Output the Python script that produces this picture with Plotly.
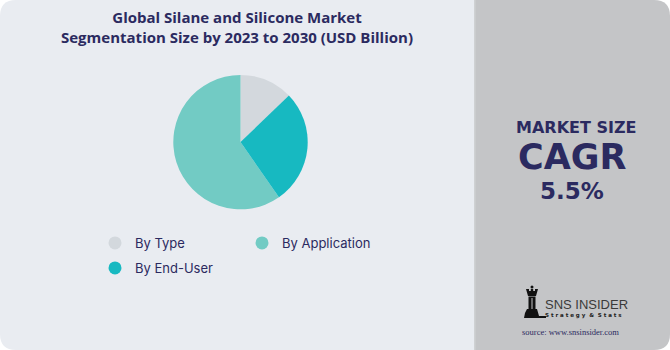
import plotly.graph_objects as go

# ---- data ----
categories = ["By Type", "By Application", "By End-User"]
values = [12.8, 59.7, 27.5]
colors = ["#d3d8dd", "#72cbc4", "#17b9c1"]
legend_groups = ["legend", "legend", "legend2"]

title_text = "Global Silane and Silicone Market<br>Segmentation Size by 2023 to 2030 (USD Billion)"
panel_label = "MARKET SIZE"
panel_metric = "CAGR"
panel_value = "5.5%"

W, H = 670, 350
NAVY = "#2b2a60"


def X(px):
    return px / W


def Y(py):
    return 1 - py / H


fig = go.Figure()

fig.add_trace(go.Pie(
    labels=categories,
    values=values,
    marker=dict(colors=colors, line=dict(width=0)),
    sort=False,
    direction="counterclockwise",
    rotation=0,
    textinfo="none",
    hoverinfo="label+percent",
    showlegend=False,
    domain=dict(x=[X(240.5 - 67.2), X(240.5 + 67.2)], y=[Y(142.1 + 67.2), Y(142.1 - 67.2)]),
))

for name, col, lg in zip(categories, colors, legend_groups):
    fig.add_trace(go.Scatter(
        x=[None], y=[None], mode="markers", name=name,
        marker=dict(size=13, color=col, symbol="circle"),
        legend=lg, hoverinfo="skip",
    ))

r = 16
split = 474
shapes = []
left = (f"M {X(r)},{Y(0)} L {X(split)},{Y(0)} L {X(split)},{Y(H)} L {X(r)},{Y(H)} "
        f"Q {X(0)},{Y(H)} {X(0)},{Y(H - r)} L {X(0)},{Y(r)} Q {X(0)},{Y(0)} {X(r)},{Y(0)} Z")
shapes.append(dict(type="path", xref="paper", yref="paper", path=left,
                   fillcolor="#e9ecf1", line=dict(width=0), layer="below"))
right = (f"M {X(split)},{Y(0)} L {X(W - r)},{Y(0)} Q {X(W)},{Y(0)} {X(W)},{Y(r)} "
         f"L {X(W)},{Y(H - r)} Q {X(W)},{Y(H)} {X(W - r)},{Y(H)} L {X(split)},{Y(H)} Z")
shapes.append(dict(type="path", xref="paper", yref="paper", path=right,
                   fillcolor="#c4c5c7", line=dict(width=0), layer="below"))
shapes.append(dict(type="line", xref="paper", yref="paper", x0=X(split + 0.8), x1=X(split + 0.8),
                   y0=Y(0), y1=Y(H), line=dict(color="#d0d1d3", width=1.5), layer="below"))

# SNS logo rook (drawn decoration)
rook_col = "#111111"
shapes.append(dict(type="circle", xref="paper", yref="paper",
                   x0=X(530.5), x1=X(533.5), y0=Y(285.5), y1=Y(288.5),
                   fillcolor=rook_col, line=dict(width=0)))
crown = (f"M {X(526)},{Y(289)} L {X(529)},{Y(289)} L {X(529)},{Y(291)} L {X(530.8)},{Y(291)} "
         f"L {X(530.8)},{Y(289)} L {X(533.2)},{Y(289)} L {X(533.2)},{Y(291)} L {X(535)},{Y(291)} "
         f"L {X(535)},{Y(289)} L {X(538)},{Y(289)} L {X(536)},{Y(296)} L {X(528)},{Y(296)} Z")
shapes.append(dict(type="path", xref="paper", yref="paper", path=crown,
                   fillcolor=rook_col, line=dict(width=0)))
shapes.append(dict(type="rect", xref="paper", yref="paper", x0=X(528.5), x1=X(535.5),
                   y0=Y(309), y1=Y(296.5), fillcolor=rook_col, line=dict(width=0)))
shapes.append(dict(type="line", xref="paper", yref="paper", x0=X(532), x1=X(532),
                   y0=Y(298), y1=Y(309), line=dict(color="#c4c5c7", width=1)))
base = (f"M {X(527)},{Y(309)} L {X(537)},{Y(309)} L {X(539)},{Y(316)} L {X(546)},{Y(316)} "
        f"L {X(546)},{Y(318)} L {X(524)},{Y(318)} L {X(525)},{Y(313)} Z")
shapes.append(dict(type="path", xref="paper", yref="paper", path=base,
                   fillcolor=rook_col, line=dict(width=0)))

annotations = [
    dict(text=title_text, x=X(236.5), y=Y(26.5), xanchor="center", yanchor="middle",
         font=dict(family="Open Sans", size=15, color=NAVY, weight=700), align="center"),
    dict(text=panel_label, x=X(575.5), y=Y(127), xanchor="center", yanchor="middle",
         font=dict(family="DejaVu Sans", size=16, color=NAVY, weight=700)),
    dict(text=panel_metric, x=X(572), y=Y(157), xanchor="center", yanchor="middle",
         font=dict(family="DejaVu Sans", size=35, color=NAVY, weight=700)),
    dict(text=panel_value, x=X(572), y=Y(190.5), xanchor="center", yanchor="middle",
         font=dict(family="DejaVu Sans", size=23, color=NAVY, weight=700)),
    dict(text="SNS INSIDER", x=X(543), y=Y(304.5), xanchor="left", yanchor="middle",
         font=dict(family="Liberation Sans Narrow, Liberation Sans", size=13, color="#3a3a3a")),
    dict(text="S t r a t e g y  &  S t a t s", x=X(543), y=Y(315.5), xanchor="left", yanchor="middle",
         font=dict(family="DejaVu Sans", size=5.5, color="#222222", weight=700)),
    dict(text="source: www.snsinsider.com", x=X(570), y=Y(332), xanchor="center", yanchor="middle",
         font=dict(family="Liberation Serif", size=8.5, color=NAVY)),
]
for a in annotations:
    a.update(xref="paper", yref="paper", showarrow=False)

legend_common = dict(orientation="h", xanchor="left", yanchor="top",
                     entrywidth=102, entrywidthmode="pixels",
                     font=dict(family="Inter", size=13, color=NAVY),
                     bgcolor="rgba(0,0,0,0)", borderwidth=0, itemsizing="trace",
                     itemclick=False, itemdoubleclick=False)

fig.update_layout(
    width=W, height=H,
    margin=dict(l=0, r=0, t=0, b=0),
    paper_bgcolor="white",
    plot_bgcolor="rgba(0,0,0,0)",
    xaxis=dict(visible=False),
    yaxis=dict(visible=False),
    shapes=shapes,
    annotations=annotations,
    legend=dict(x=X(95), y=Y(228), **legend_common),
    legend2=dict(x=X(95), y=Y(253), **legend_common),
)

fig.write_html("out.html")
